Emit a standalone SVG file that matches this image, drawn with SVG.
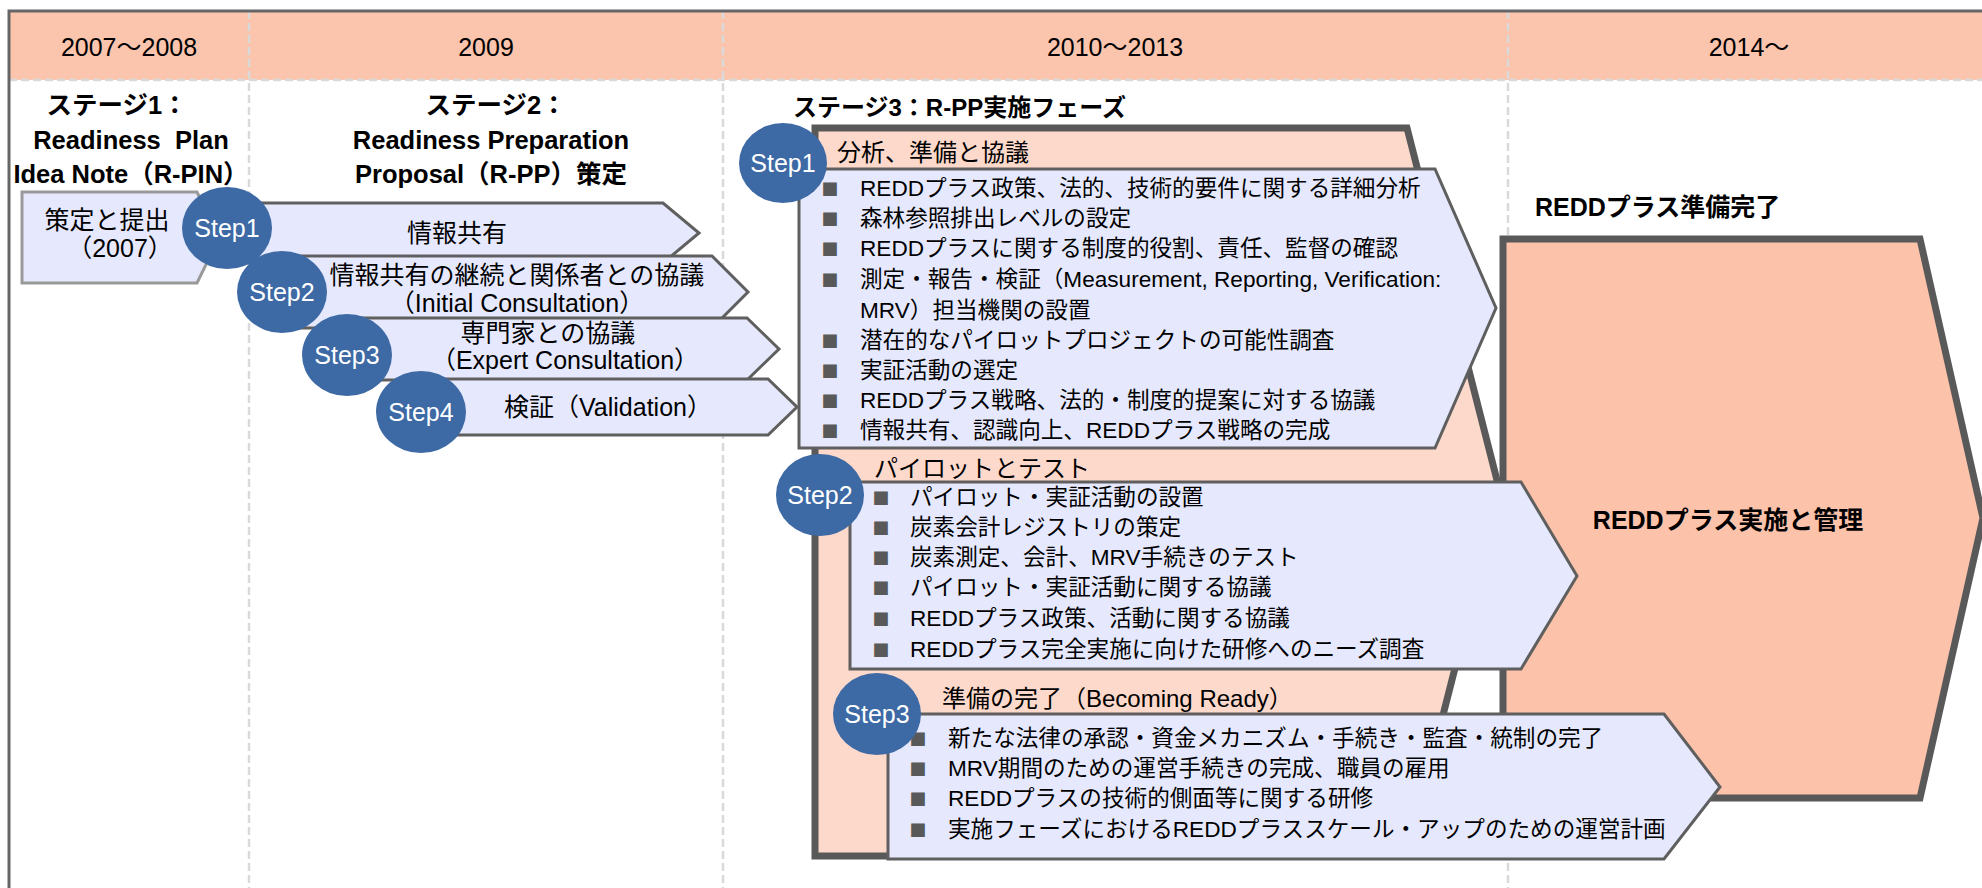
<svg xmlns="http://www.w3.org/2000/svg" width="1982" height="888" viewBox="0 0 1982 888">
<style>
text{font-family:"Liberation Sans","Noto Sans CJK JP",sans-serif;fill:#000;dominant-baseline:central}
.yr{font-size:25px;text-anchor:middle}
.ttl{font-size:25.5px;font-weight:bold;text-anchor:middle}
.bt{font-size:25px;font-weight:bold}
.a2{font-size:25px;text-anchor:middle}
.step{font-size:25px;fill:#fff;text-anchor:middle}
.st{font-size:24px}
.it{font-size:22.6px}
.bl{font-family:"Noto Sans CJK JP",sans-serif;font-size:17px;fill:#595959;text-anchor:middle}
.arrow{fill:#e6e9fd;stroke:#5f5f5f;stroke-width:3;stroke-linejoin:miter}
.circ{fill:#3d69a5}
.grid{stroke:#d9d9d9;stroke-width:2.5;stroke-dasharray:8 4;fill:none}
.big{stroke:#595959;stroke-width:7;stroke-linejoin:miter}
</style>

<g id="frame">
<rect x="9" y="11" width="1990" height="69" fill="#fbc4ad"/>
<line x1="9" y1="80" x2="1982" y2="80" class="grid"/>
<line x1="249" y1="11" x2="249" y2="888" class="grid"/>
<line x1="723" y1="11" x2="723" y2="888" class="grid"/>
<line x1="1508" y1="11" x2="1508" y2="888" class="grid"/>
<rect x="9" y="11" width="2000" height="900" fill="none" stroke="#666" stroke-width="3"/>
<text class="yr" x="129" y="47">2007〜2008</text>
<text class="yr" x="486" y="47">2009</text>
<text class="yr" x="1115" y="47">2010〜2013</text>
<text class="yr" x="1749" y="47">2014〜</text>
</g>

<g id="stage1">
<text class="ttl" x="117" y="105">ステージ1：</text>
<text class="ttl" x="131" y="140" style="white-space:pre">Readiness  Plan</text>
<text class="ttl" x="131" y="174">Idea Note（R-PIN）</text>
<polygon points="22,192 197,192 219,238 197,283 22,283" fill="#e6e9fd" stroke="#999" stroke-width="3"/>
<text class="a2" x="107" y="220">策定と提出</text>
<text class="a2" x="120" y="248">（2007）</text>
</g>

<g id="stage2">
<text class="ttl" x="496" y="105">ステージ2：</text>
<text class="ttl" x="491" y="140">Readiness Preparation</text>
<text class="ttl" x="491" y="174">Proposal（R-PP）策定</text>
</g>

<g id="s2-step1">
<polygon class="arrow" points="227,203 663,203 699,233 663,263 227,263"/>
<text class="a2" x="457" y="233">情報共有</text>
<ellipse class="circ" cx="227" cy="228" rx="45" ry="41"/>
<text class="step" x="227" y="228">Step1</text>
</g>
<g id="s2-step2">
<polygon class="arrow" points="282,256 712,256 748,292 712,328 282,328"/>
<text class="a2" x="517" y="275">情報共有の継続と関係者との協議</text>
<text class="a2" x="517" y="303">（Initial Consultation）</text>
<ellipse class="circ" cx="282" cy="292" rx="45" ry="41"/>
<text class="step" x="282" y="292">Step2</text>
</g>
<g id="s2-step3">
<polygon class="arrow" points="347,318 747,318 779,349 747,380 347,380"/>
<text class="a2" x="548" y="333">専門家との協議</text>
<text class="a2" x="565" y="360">（Expert Consultation）</text>
<ellipse class="circ" cx="347" cy="355" rx="45" ry="41"/>
<text class="step" x="347" y="355">Step3</text>
</g>
<g id="s2-step4">
<polygon class="arrow" points="421,379 768,379 797,407 768,435 421,435"/>
<text class="a2" x="608" y="407">検証（Validation）</text>
<ellipse class="circ" cx="421" cy="412" rx="45" ry="41"/>
<text class="step" x="421" y="412">Step4</text>
</g>

<g id="stage3">
<text class="bt" x="793" y="107" style="font-size:24px">ステージ3：R-PP実施フェーズ</text>
<polygon class="big" points="815,128 1407,128 1500,492 1407,856 815,856" fill="#fdd9cb"/>
</g>

<g id="ready">
<text class="bt" x="1535" y="207">REDDプラス準備完了</text>
<polygon class="big" points="1503,239 1920,239 1983,518 1920,798 1503,798" fill="#fcc2aa"/>
<text class="bt" x="1728" y="520" text-anchor="middle">REDDプラス実施と管理</text>
</g>

<g id="s3-step1">
<text class="st" x="837" y="152">分析、準備と協議</text>
<polygon class="arrow" points="799,169 1435,169 1496,308 1435,448 799,448"/>
<text class="bl" x="830" y="188">■</text><text class="bl" x="830" y="218">■</text><text class="bl" x="830" y="248">■</text><text class="bl" x="830" y="279">■</text><text class="bl" x="830" y="340">■</text><text class="bl" x="830" y="370">■</text><text class="bl" x="830" y="400">■</text><text class="bl" x="830" y="430">■</text>
<text class="it" x="860" y="188">REDDプラス政策、法的、技術的要件に関する詳細分析</text>
<text class="it" x="860" y="218">森林参照排出レベルの設定</text>
<text class="it" x="860" y="248">REDDプラスに関する制度的役割、責任、監督の確認</text>
<text class="it" x="860" y="279">測定・報告・検証（Measurement, Reporting, Verification:</text>
<text class="it" x="860" y="310">MRV）担当機関の設置</text>
<text class="it" x="860" y="340">潜在的なパイロットプロジェクトの可能性調査</text>
<text class="it" x="860" y="370">実証活動の選定</text>
<text class="it" x="860" y="400">REDDプラス戦略、法的・制度的提案に対する協議</text>
<text class="it" x="860" y="430">情報共有、認識向上、REDDプラス戦略の完成</text>
<ellipse class="circ" cx="783" cy="163" rx="44" ry="40"/>
<text class="step" x="783" y="163">Step1</text>
</g>

<g id="s3-step2">
<text class="st" x="874" y="468">パイロットとテスト</text>
<polygon class="arrow" points="850,482 1521,482 1577,576 1521,669 850,669"/>
<text class="bl" x="881" y="497">■</text><text class="bl" x="881" y="527">■</text><text class="bl" x="881" y="557">■</text><text class="bl" x="881" y="587">■</text><text class="bl" x="881" y="618">■</text><text class="bl" x="881" y="649">■</text>
<text class="it" x="910" y="497">パイロット・実証活動の設置</text>
<text class="it" x="910" y="527">炭素会計レジストリの策定</text>
<text class="it" x="910" y="557">炭素測定、会計、MRV手続きのテスト</text>
<text class="it" x="910" y="587">パイロット・実証活動に関する協議</text>
<text class="it" x="910" y="618">REDDプラス政策、活動に関する協議</text>
<text class="it" x="910" y="649">REDDプラス完全実施に向けた研修へのニーズ調査</text>
<ellipse class="circ" cx="820" cy="495" rx="44" ry="41"/>
<text class="step" x="820" y="495">Step2</text>
</g>

<g id="s3-step3">
<text class="st" x="942" y="698">準備の完了（Becoming Ready）</text>
<polygon class="arrow" points="888,714 1664,714 1720,787 1664,859 888,859"/>
<text class="bl" x="918" y="738">■</text><text class="bl" x="918" y="768">■</text><text class="bl" x="918" y="798">■</text><text class="bl" x="918" y="829">■</text>
<text class="it" x="948" y="738">新たな法律の承認・資金メカニズム・手続き・監査・統制の完了</text>
<text class="it" x="948" y="768">MRV期間のための運営手続きの完成、職員の雇用</text>
<text class="it" x="948" y="798">REDDプラスの技術的側面等に関する研修</text>
<text class="it" x="948" y="829">実施フェーズにおけるREDDプラススケール・アップのための運営計画</text>
<ellipse class="circ" cx="877" cy="714" rx="44" ry="41"/>
<text class="step" x="877" y="714">Step3</text>
</g>
</svg>
